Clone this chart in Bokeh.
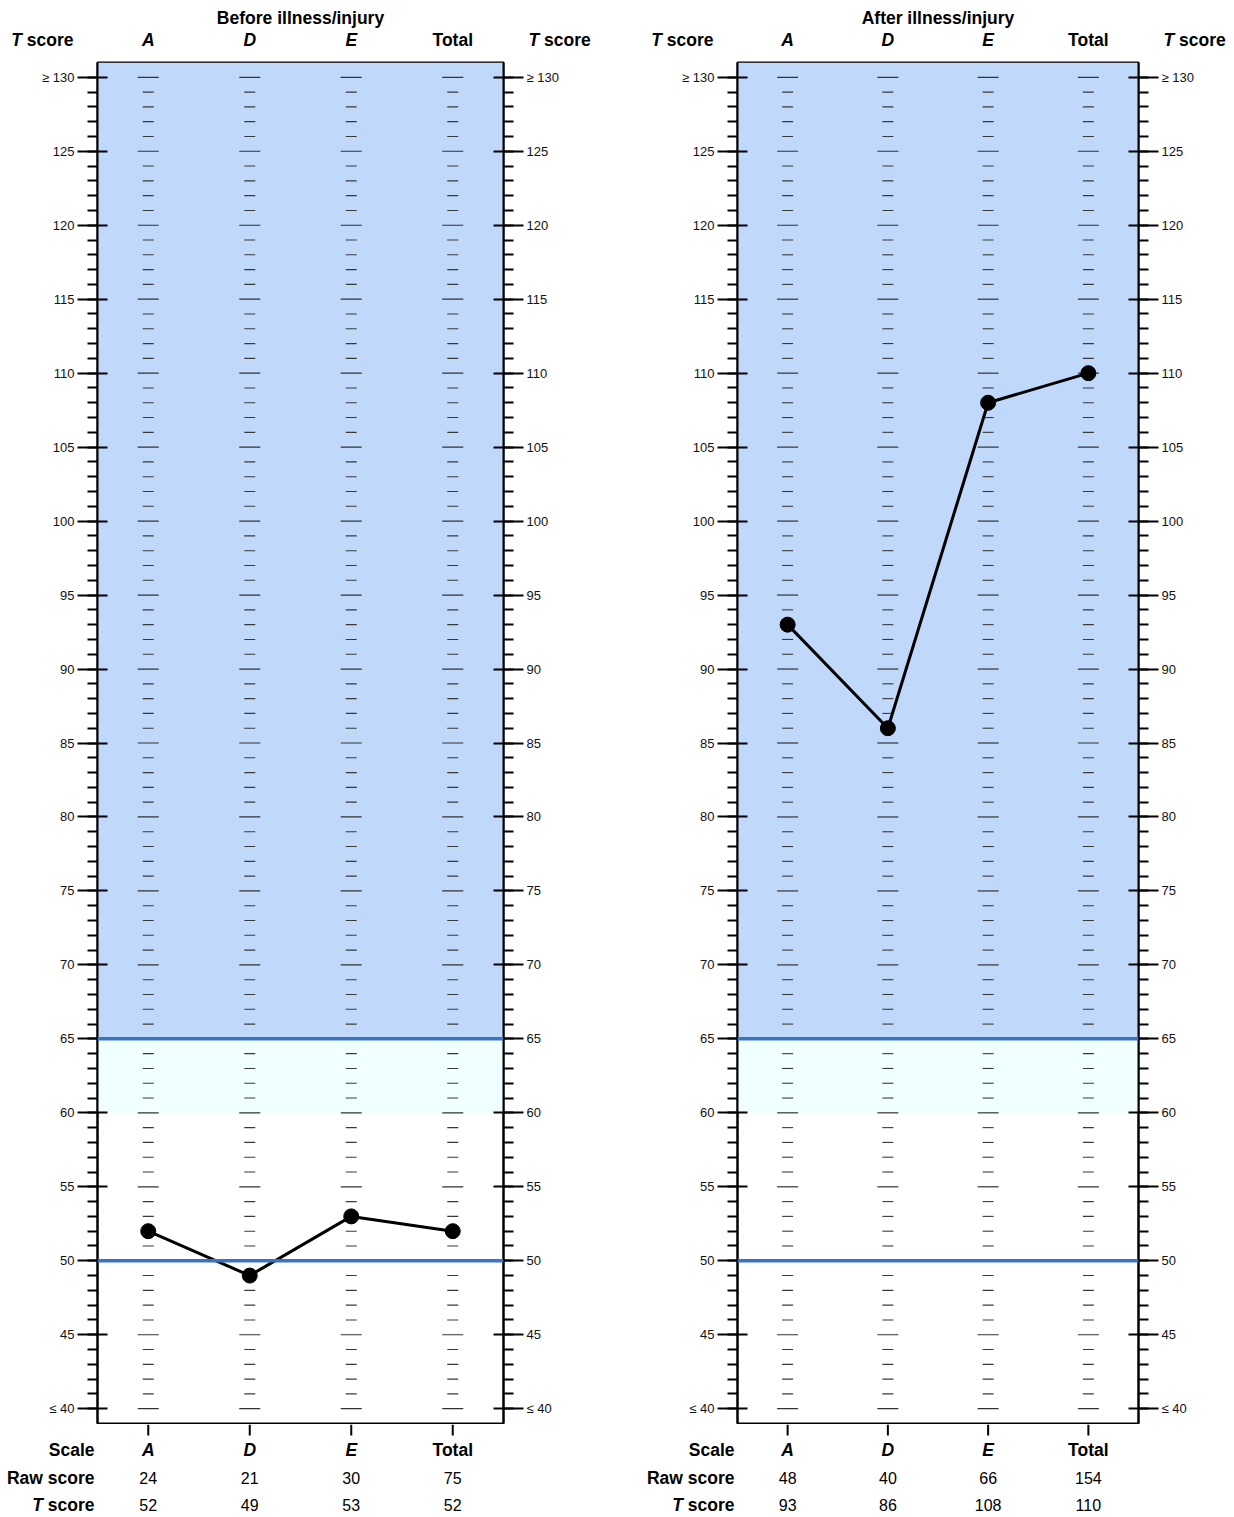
from bokeh.plotting import figure
from bokeh.layouts import row, column
from bokeh.models import (Range1d, FixedTicker, LinearAxis, BoxAnnotation, Span,
                          ColumnDataSource)
from bokeh.core.properties import value
from bokeh.embed import file_html
from bokeh.resources import INLINE

# ---------------- data ----------------
scales = ["A", "D", "E", "Total"]
scale_italic = [True, True, True, False]
panel_titles = ["Before illness/injury", "After illness/injury"]
raw_before = [24, 21, 30, 75]
t_before = [52, 49, 53, 52]
raw_after = [48, 40, 66, 154]
t_after = [93, 86, 108, 110]
t_min, t_max = 40, 130
major_step = 5
elevated_band = (65, 131)   # clinically elevated region
borderline_band = (60, 65)
ref_lines = [65, 50]

FONT = "Liberation Sans"
BLUE_FILL = "#C0D8FA"
CYAN_FILL = "#F0FFFF"
LINE_BLUE = "#3A73C2"

Y0, Y1 = 39, 131
HEADER_H = 61       # page px above main figure
MAIN_H = 1363       # frame 1361 + 1px borders
FOOTER_H = 91


def bare(fig):
    fig.grid.visible = False
    fig.axis.visible = False
    fig.outline_line_color = None
    fig.background_fill_color = None
    fig.border_fill_color = None
    return fig


def txt(fig, x, y, text, style="bold", align="center", size="17.5px", x_offset=0):
    fig.text(x=[x], y=[y], text=[text], text_font=value(FONT), text_font_size=size,
             text_font_style=style, text_align=align, text_baseline="middle",
             x_offset=x_offset, text_color="black")


def make_panel(title, raw, tvals, left, frame_w, right):
    xs = list(range(1, len(scales) + 1))
    n = len(scales)
    width = left + frame_w + right
    ppu = frame_w / n

    # ---------- main chart ----------
    p = figure(width=width, height=MAIN_H, output_backend="svg", toolbar_location=None,
               x_range=Range1d(0.5, n + 0.5), y_range=Range1d(Y0, Y1),
               min_border_left=left, min_border_right=right,
               min_border_top=1, min_border_bottom=1)
    p.grid.visible = False
    p.xaxis.visible = False
    p.background_fill_color = "white"
    p.border_fill_color = "white"
    p.outline_line_color = "black"
    p.outline_line_width = 2

    majors = list(range(t_min, t_max + 1, major_step))
    minors = list(range(t_min, t_max + 1))
    overrides = {t_max: "\u2265 " + str(t_max), t_min: "\u2264 " + str(t_min)}

    def style_y(ax):
        ax.ticker = FixedTicker(ticks=majors, minor_ticks=minors)
        ax.major_label_overrides = overrides
        ax.major_tick_out = 20
        ax.major_tick_in = 10
        ax.minor_tick_out = 10
        ax.minor_tick_in = 0
        ax.major_tick_line_width = 2
        ax.minor_tick_line_width = 2
        ax.major_tick_line_color = "black"
        ax.minor_tick_line_color = "black"
        ax.axis_line_width = 2
        ax.axis_line_color = "black"
        ax.major_label_text_font = FONT
        ax.major_label_text_font_size = "13px"
        ax.major_label_text_color = "#111111"
        ax.major_label_standoff = 3

    style_y(p.yaxis[0])
    ra = LinearAxis()
    style_y(ra)
    p.add_layout(ra, "right")

    p.add_layout(BoxAnnotation(bottom=elevated_band[0], top=elevated_band[1],
                               fill_color=BLUE_FILL, fill_alpha=1, line_color=None, level="underlay"))
    p.add_layout(BoxAnnotation(bottom=borderline_band[0], top=borderline_band[1],
                               fill_color=CYAN_FILL, fill_alpha=1, line_color=None, level="underlay"))

    mx, my, nx, ny = [], [], [], []
    for x in xs:
        for t in minors:
            if t % major_step == 0:
                mx.append(x); my.append(t)
            else:
                nx.append(x); ny.append(t)
    p.scatter(mx, my, marker="dash", size=21, line_color="#333333", line_width=1.2)
    p.scatter(nx, ny, marker="dash", size=11, line_color="#3a3a3a", line_width=1.1)

    for v in ref_lines:
        p.add_layout(Span(location=v, dimension="width", line_color=LINE_BLUE, line_width=3.5))

    src = ColumnDataSource(dict(x=xs, t=tvals))
    p.line("x", "t", source=src, line_color="black", line_width=3)
    p.scatter("x", "t", source=src, size=15, fill_color="black", line_color="black")

    # ---------- header ----------
    h = bare(figure(width=width, height=HEADER_H, output_backend="svg", toolbar_location=None,
                    x_range=Range1d(0.5 - left / ppu, 0.5 + (width - left) / ppu),
                    y_range=Range1d(HEADER_H, 0),
                    min_border_left=0, min_border_right=0, min_border_top=0, min_border_bottom=0))
    cx = (n + 1) / 2
    txt(h, cx, 17, title)
    yh = 39
    for x, s, it in zip(xs, scales, scale_italic):
        txt(h, x, yh, s, style="bold italic" if it else "bold")
    xl, xr = 0.5, n + 0.5
    txt(h, xl, yh, "score", align="right", x_offset=-24)
    txt(h, xl, yh, "T", style="bold italic", align="right", x_offset=-24 - 46.7 - 4.9)
    txt(h, xr, yh, "T", style="bold italic", align="left", x_offset=25)
    txt(h, xr, yh, "score", align="left", x_offset=25 + 10.7 + 4.9)

    # ---------- footer ----------
    top = HEADER_H + MAIN_H
    f = bare(figure(width=width, height=FOOTER_H, output_backend="svg", toolbar_location=None,
                    x_range=Range1d(0.5 - left / ppu, 0.5 + (width - left) / ppu),
                    y_range=Range1d(top + FOOTER_H, top),
                    min_border_left=0, min_border_right=0, min_border_top=0, min_border_bottom=0))
    f.segment(x0=xs, y0=[top] * n, x1=xs, y1=[top + 11] * n, line_color="black", line_width=2)
    y_scale, y_raw, y_t = 1449, 1477, 1504
    txt(f, xl, y_scale, "Scale", align="right", x_offset=-3)
    txt(f, xl, y_raw, "Raw score", align="right", x_offset=-3)
    txt(f, xl, y_t, "score", align="right", x_offset=-3)
    txt(f, xl, y_t, "T", style="bold italic", align="right", x_offset=-3 - 46.7 - 4.9)
    for x, s, it, r, t in zip(xs, scales, scale_italic, raw, tvals):
        txt(f, x, y_scale, s, style="bold italic" if it else "bold")
        txt(f, x, y_raw, str(r), style="normal", size="16px")
        txt(f, x, y_t, str(t), style="normal", size="16px")

    return h, p, f


h1, p1, f1 = make_panel(panel_titles[0], raw_before, t_before, left=97, frame_w=406, right=117)
h2, p2, f2 = make_panel(panel_titles[1], raw_after, t_after, left=117, frame_w=401, right=94)

layout = column(row(h1, h2, spacing=0), row(p1, p2, spacing=0), row(f1, f2, spacing=0), spacing=0)
open("out.html", "w").write(file_html(layout, INLINE))
